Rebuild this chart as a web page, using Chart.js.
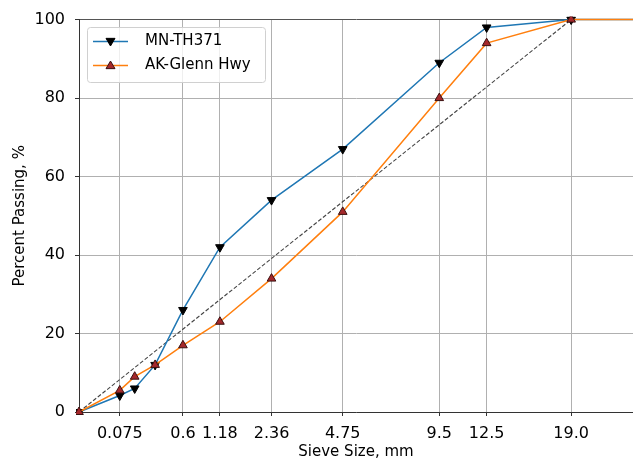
<!DOCTYPE html>
<html>
<head>
<meta charset="utf-8">
<script src="https://cdn.jsdelivr.net/npm/chart.js@4"></script>
<style>
  html, body { margin: 0; padding: 0; background: #fff; }
  #wrap { width: 633px; height: 460px; }
</style>
</head>
<body>
<div id="wrap"><canvas id="gradChart"></canvas></div>
<script>
// Sieve sizes (mm) and percent passing
const sieves = [0, 0.075, 0.15, 0.3, 0.6, 1.18, 2.36, 4.75, 9.5, 12.5, 19.0, 25.0];
const mnTH371 = [0, 4.2, 6, 12, 26, 42, 54, 67, 89, 98, 100, 100];
const akGlenn = [0, 5.5, 9, 12, 17, 23, 34, 51, 80, 94, 100, 100];

// Maximum density line: origin to nominal max size
const mdlSieves = [0, 19.0];
const mdlValues = [0, 100];

// Labelled ticks on the 0.45 power axis
const tickSieves = [0.075, 0.6, 1.18, 2.36, 4.75, 9.5, 12.5, 19.0];
const tickLabels = ['0.075', '0.6', '1.18', '2.36', '4.75', '9.5', '12.5', '19.0'];
const yTicks = [0, 20, 40, 60, 80, 100];

// 0.45 power transform for the x axis
const pow45 = s => Math.pow(s, 0.45);
const toPoints = (xs, ys) => xs.map((s, i) => ({ x: pow45(s), y: ys[i] }));

const FONT = 'DejaVu Sans';

// last point (off the right edge) carries the line only, no marker
const markerSize = c => (c.dataIndex === sieves.length - 1 ? 0 : 5);

// Matplotlib-style legend box with line + marker samples
const boxLegend = {
    id: 'boxLegend',
    afterDatasetsDraw(chart) {
        const ctx = chart.ctx;
        const items = chart.data.datasets.filter(d => d.showInLegend);
        const x0 = 87.5, y0 = 27.5, w = 178, h = 55;
        ctx.save();
        ctx.fillStyle = 'rgba(255,255,255,0.8)';
        ctx.strokeStyle = '#d0d0d0';
        ctx.lineWidth = 1;
        ctx.beginPath();
        ctx.roundRect(x0, y0, w, h, 3);
        ctx.fill();
        ctx.stroke();
        items.forEach((d, i) => {
            const y = 41.5 + i * 24;
            ctx.strokeStyle = d.borderColor;
            ctx.lineWidth = 1.5;
            ctx.beginPath();
            ctx.moveTo(93, y);
            ctx.lineTo(128, y);
            ctx.stroke();
            // marker
            const r = 4.5;
            const dir = d.pointRotation === 180 ? -1 : 1;
            ctx.fillStyle = d.pointBackgroundColor;
            ctx.strokeStyle = d.pointBorderColor;
            ctx.lineWidth = 1;
            ctx.beginPath();
            ctx.moveTo(110.5, y - dir * r);
            ctx.lineTo(110.5 - r, y + dir * r * 0.7);
            ctx.lineTo(110.5 + r, y + dir * r * 0.7);
            ctx.closePath();
            ctx.fill();
            ctx.stroke();
            ctx.fillStyle = '#000';
            ctx.font = '15px "' + FONT + '"';
            ctx.textBaseline = 'middle';
            ctx.textAlign = 'left';
            ctx.fillText(d.label, 145, y);
        });
        ctx.restore();
    }
};

const ctx = document.getElementById('gradChart').getContext('2d');

const config = {
    type: 'line',
    data: {
        datasets: [
            {
                label: 'Max density line',
                data: toPoints(mdlSieves, mdlValues),
                borderColor: '#444444',
                borderWidth: 1.1,
                borderDash: [4, 2],
                pointRadius: 0,
                showInLegend: false,
                order: 3
            },
            {
                label: 'MN-TH371',
                data: toPoints(sieves, mnTH371),
                borderColor: '#1f77b4',
                borderWidth: 1.5,
                pointStyle: 'triangle',
                pointRotation: 180,
                pointRadius: markerSize,
                pointBackgroundColor: '#000000',
                pointBorderColor: '#000000',
                pointBorderWidth: 1,
                showInLegend: true,
                clip: 3,
                order: 2
            },
            {
                label: 'AK-Glenn Hwy',
                data: toPoints(sieves, akGlenn),
                borderColor: '#ff7f0e',
                borderWidth: 1.5,
                pointStyle: 'triangle',
                pointRotation: 0,
                pointRadius: markerSize,
                pointBackgroundColor: '#a4282b',
                pointBorderColor: '#3a1010',
                pointBorderWidth: 1,
                showInLegend: true,
                clip: 3,
                order: 1
            }
        ]
    },
    options: {
        responsive: true,
        maintainAspectRatio: false,
        animation: false,
        layout: { autoPadding: false, padding: { top: 19, right: 0, left: 0, bottom: 0 } },
        scales: {
            x: {
                type: 'linear',
                min: 0,
                max: 4.235,
                afterBuildTicks: scale => {
                    scale.ticks = tickSieves.map(s => ({ value: pow45(s) }));
                },
                afterFit: scale => { scale.height = 48; },
                ticks: {
                    autoSkip: false,
                    maxRotation: 0,
                    color: '#000',
                    padding: 8,
                    font: { family: FONT, size: 16 },
                    callback: (value, index) => tickLabels[index]
                },
                grid: {
                    color: '#b0b0b0',
                    lineWidth: 1,
                    tickLength: 4,
                    tickColor: '#333'
                },
                border: { color: '#333', width: 1 },
                title: {
                    display: true,
                    text: 'Sieve Size, mm',
                    color: '#000',
                    font: { family: FONT, size: 15, lineHeight: 1.0 },
                    padding: { top: 0, bottom: 0 }
                }
            },
            y: {
                type: 'linear',
                min: 0,
                max: 100,
                afterBuildTicks: scale => {
                    scale.ticks = yTicks.map(v => ({ value: v }));
                },
                afterFit: scale => { scale.width = 79; },
                ticks: {
                    color: '#000',
                    padding: 10,
                    font: { family: FONT, size: 16 }
                },
                grid: {
                    color: ctx => ctx.tick && ctx.tick.value === 100 ? '#555' : '#b0b0b0',
                    lineWidth: 1,
                    tickLength: 4,
                    tickColor: '#333'
                },
                border: { color: '#333', width: 1 },
                title: {
                    display: true,
                    text: 'Percent Passing, %',
                    color: '#000',
                    font: { family: FONT, size: 15 },
                    padding: { top: 11, bottom: 0 }
                }
            }
        },
        plugins: {
            legend: { display: false },
            tooltip: { enabled: false }
        }
    },
    plugins: [boxLegend]
};

const gradChart = new Chart(ctx, config);
</script>
</body>
</html>
